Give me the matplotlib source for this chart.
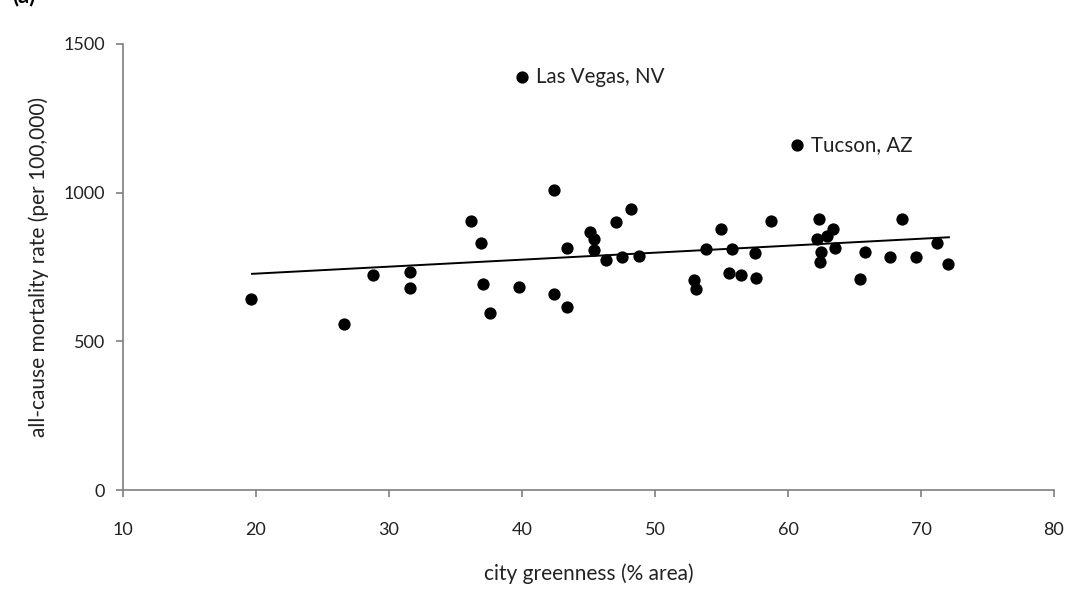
import numpy as np
import matplotlib
matplotlib.use("Agg")
import matplotlib.pyplot as plt

plt.rcParams['font.family'] = ['Lato', 'DejaVu Sans']

# greenness (% area) vs all-cause mortality (per 100,000)
greenness = [19.6, 26.6, 28.8, 31.6, 31.6, 36.2, 36.9, 37.1, 37.6, 39.8,
             42.4, 42.4, 43.4, 43.4, 45.1, 45.4, 45.4, 46.3, 47.1, 47.5,
             48.2, 48.8, 52.9, 53.1, 53.8, 55.0, 55.6, 55.8, 56.5, 57.5,
             57.6, 58.7, 62.3, 62.9, 62.2, 63.4, 63.5, 62.5, 62.4, 65.4,
             65.8, 67.7, 68.6, 69.6, 71.2, 72.0]
mortality = [643, 557, 724, 734, 680, 906, 832, 692, 594, 682,
             1008, 659, 815, 617, 869, 843, 807, 774, 901, 783,
             944, 788, 706, 676, 810, 879, 729, 810, 723, 798,
             714, 906, 912, 854, 843, 879, 815, 802, 766, 709,
             800, 783, 912, 783, 832, 761]

# labelled outliers
outlier_x = [40.0, 60.7]
outlier_y = [1390, 1160]
outlier_names = ["Las Vegas, NV", "Tucson, AZ"]

# trend line end points
trend_x = [19.7, 72.1]
trend_y = [727, 850]

fig = plt.figure(figsize=(10.83, 6.10), dpi=100)
ax = fig.add_axes([0.1136, 0.1967, 0.8596, 0.7312])

ax.scatter(greenness, mortality, s=78, color='black', zorder=3, linewidths=0)
ax.scatter(outlier_x, outlier_y, s=78, color='black', zorder=3, linewidths=0)
for x, y, name in zip(outlier_x, outlier_y, outlier_names):
    ax.annotate(name, (x, y), xytext=(10, 0), textcoords='offset points',
                va='center', ha='left', fontsize=14.8, color='#222222')
ax.plot(trend_x, trend_y, color='black', lw=1.4, zorder=2)

ax.set_xlim(10, 80)
ax.set_ylim(0, 1500)
ax.set_xticks(np.arange(10, 81, 10))
ax.set_yticks([0, 500, 1000, 1500])

for side in ['top', 'right']:
    ax.spines[side].set_visible(False)
for side in ['left', 'bottom']:
    ax.spines[side].set_color('#7f7f7f')
    ax.spines[side].set_linewidth(1.2)
ax.tick_params(axis='both', direction='out', length=5, width=1.2,
               color='#7f7f7f', labelsize=13, labelcolor='#222222', pad=8)
ax.tick_params(axis='x', pad=18)

ax.set_xlabel("city greenness (% area)", fontsize=15, color='#222222', labelpad=18)
ax.set_ylabel("all-cause mortality rate (per 100,000)", fontsize=15,
              color='#222222', labelpad=10)

fig.text(0.011, 1.0 - 2 / 610, "(a)", fontsize=16, fontweight='bold',
         ha='left', va='baseline')

fig.savefig("out.png", dpi=100)
